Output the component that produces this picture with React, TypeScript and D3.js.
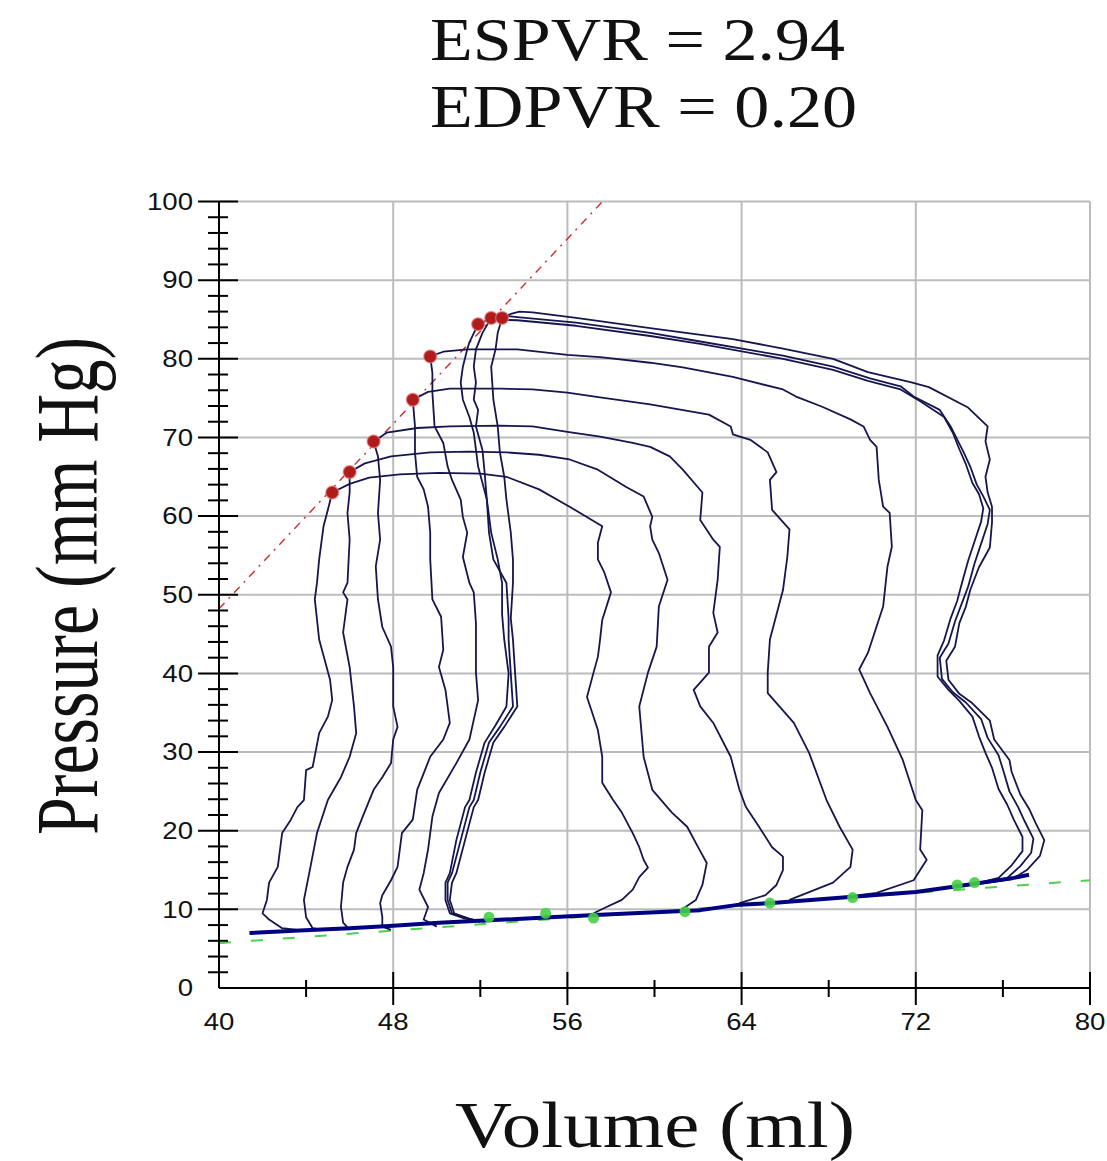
import React from 'react';
import * as d3 from 'd3';

type Pt = [number, number];

// ---- axis ticks ----
const xTicks = [40, 48, 56, 64, 72, 80];
const xMinorTicks = [44, 52, 60, 68, 76];
const yTicks = [0, 10, 20, 30, 40, 50, 60, 70, 80, 90, 100];
const yMinorTicks = [2, 4, 6, 8, 12, 14, 16, 18, 22, 24, 26, 28, 32, 34, 36, 38, 42, 44, 46, 48, 52, 54, 56, 58, 62, 64, 66, 68, 72, 74, 76, 78, 82, 84, 86, 88, 92, 94, 96, 98];

// ---- titles ----
const titleLines = ['ESPVR = 2.94', 'EDPVR = 0.20'];
const xLabel = 'Volume (ml)';
const yLabel = 'Pressure (mm Hg)';

// ---- fitted relations ----
const ESPVR_SLOPE = 2.94;
const ESPVR_V0 = 23.6;
const EDPVR_SLOPE = 0.2;
const EDPVR_P_AT_40 = 5.7;

// ---- pressure-volume loops [volume ml, pressure mmHg] ----
const loop1: Pt[] = [[57.2,9.5],[57.8,10.3],[58.5,11.2],[59.0,12.5],[59.3,14.1],[59.7,15.3],[59.5,16.3],[59.3,17.9],[59.0,19.7],[58.5,22.3],[58.1,23.9],[57.6,26.1],[57.6,29.4],[57.4,32.8],[57.2,34.5],[56.9,37.0],[57.2,40.1],[57.4,42.1],[57.5,44.3],[57.6,46.8],[58.0,50.3],[57.7,52.8],[57.4,54.5],[57.4,56.6],[57.6,58.7],[56.1,61.2],[54.7,63.4],[53.2,65.0],[52.0,65.4],[50.1,65.5],[48.3,65.3],[46.9,64.9],[46.0,64.1],[45.2,63.0],[45.0,60.8],[44.8,58.7],[44.6,54.5],[44.5,51.5],[44.4,49.4],[44.6,44.3],[45.1,39.2],[45.2,36.6],[45.0,34.5],[44.6,32.4],[44.3,28.1],[44.0,27.7],[43.9,23.9],[43.6,23.0],[43.3,21.4],[42.9,19.7],[42.7,15.4],[42.3,13.4],[42.2,11.2],[42.0,9.5],[42.3,8.7],[42.9,7.6],[43.6,7.4]];

const loop2: Pt[] = [[61.2,9.9],[61.9,11.2],[62.2,13.1],[62.4,15.9],[62.1,17.4],[61.5,20.5],[60.8,22.3],[59.9,25.2],[59.5,29.4],[59.3,35.8],[59.7,40.1],[60.1,43.4],[60.2,48.5],[60.6,51.9],[60.2,55.3],[59.9,57.0],[59.8,58.7],[59.9,59.9],[59.5,62.5],[58.7,63.7],[57.4,65.9],[56.1,67.2],[54.7,67.8],[53.2,68.1],[51.5,68.2],[49.7,68.1],[47.9,67.6],[46.7,66.7],[46.0,65.6],[46.0,63.0],[45.9,60.4],[46.0,57.0],[45.9,51.5],[45.7,50.3],[45.9,49.4],[45.7,45.2],[46.0,40.8],[46.2,35.8],[46.3,32.4],[46.0,29.4],[45.6,26.8],[45.0,23.9],[44.5,19.7],[44.2,15.4],[43.9,11.2],[44.0,9.0],[44.3,7.6],[44.8,7.4]];

const loop3: Pt[] = [[63.9,10.8],[65.1,11.8],[65.6,13.1],[65.9,15.0],[65.9,16.7],[65.4,17.9],[64.8,20.5],[64.2,23.0],[63.9,25.2],[63.5,29.4],[62.7,33.7],[62.1,35.8],[61.8,37.9],[62.5,40.1],[62.5,43.4],[62.9,45.2],[62.7,47.7],[62.9,51.9],[63.0,56.1],[62.7,57.0],[62.1,59.5],[62.2,63.0],[61.3,65.9],[60.7,67.6],[59.8,68.8],[59.0,69.3],[57.5,70.1],[56.0,70.7],[54.4,71.4],[52.9,71.5],[50.6,71.4],[49.1,71.2],[47.7,70.6],[47.1,69.5],[47.3,67.6],[47.4,64.6],[47.3,60.4],[47.4,57.0],[47.2,53.6],[47.3,49.4],[47.5,45.9],[47.9,43.4],[48.0,40.8],[48.0,35.8],[48.2,33.2],[48.0,31.6],[47.9,28.6],[47.5,26.8],[47.1,25.2],[46.6,21.8],[46.3,19.7],[46.2,17.6],[45.9,15.4],[45.7,13.4],[45.6,10.3],[45.7,8.3],[46.0,7.4]];

const loop4: Pt[] = [[66.2,11.2],[68.2,13.4],[69.0,15.4],[69.1,17.6],[68.5,20.5],[67.9,23.9],[67.1,29.9],[66.4,33.7],[65.2,37.5],[65.2,40.1],[65.3,44.3],[65.9,50.6],[66.1,54.8],[66.2,58.3],[65.4,60.8],[65.3,64.6],[65.6,65.6],[65.2,68.1],[64.4,69.7],[63.6,70.4],[63.5,71.4],[62.5,72.9],[59.8,74.2],[57.5,75.1],[56.0,75.7],[54.4,76.1],[52.9,76.2],[50.6,76.2],[49.6,75.8],[48.9,74.8],[49.0,71.4],[49.0,68.1],[49.1,65.0],[49.4,63.4],[49.6,61.2],[49.7,57.9],[49.7,54.5],[49.8,49.4],[50.2,47.2],[50.3,43.0],[50.1,40.8],[50.4,37.9],[50.6,33.7],[50.3,31.6],[49.7,29.4],[49.1,25.2],[48.9,21.4],[48.4,19.7],[48.2,15.4],[47.9,13.7],[47.5,11.8],[47.4,10.8],[47.5,9.0],[47.5,7.8],[47.9,7.4]];

const loop5: Pt[] = [[69.4,11.8],[70.2,12.1],[71.9,13.7],[72.5,16.3],[72.2,17.6],[72.3,22.6],[72.0,23.9],[71.4,29.0],[70.7,33.2],[69.9,37.5],[69.4,40.5],[69.8,42.6],[70.5,48.5],[70.7,53.6],[70.9,56.1],[70.8,60.4],[70.5,61.2],[70.3,64.6],[70.2,68.8],[69.9,69.7],[69.6,71.4],[69.0,72.3],[67.7,73.9],[66.5,75.2],[65.9,76.1],[63.6,77.7],[61.3,78.9],[59.8,79.5],[57.5,80.2],[56.0,80.5],[53.7,81.2],[51.4,81.2],[50.3,80.9],[49.7,80.3],[49.8,78.2],[49.8,75.7],[49.9,71.4],[50.3,69.3],[50.5,66.3],[50.7,64.6],[51.1,62.1],[51.2,59.9],[51.4,57.9],[51.2,54.8],[51.5,51.5],[51.7,50.3],[51.8,46.4],[51.8,40.1],[51.9,36.6],[51.5,31.6],[50.9,28.6],[50.1,24.8],[49.8,21.8],[49.6,17.6],[49.4,14.6],[49.2,12.5],[49.6,10.3],[49.4,8.7],[50.0,7.8]];

const loop6: Pt[] = [[73.9,13.0],[74.8,13.3],[75.8,14.0],[76.4,15.6],[76.9,17.4],[76.9,19.2],[76.5,21.4],[76.2,23.3],[75.8,25.3],[75.5,28.0],[75.2,29.9],[74.9,32.0],[74.6,34.5],[74.0,36.5],[73.5,37.9],[73.0,39.6],[73.0,42.3],[73.3,44.2],[73.6,47.0],[73.9,49.2],[74.1,51.3],[74.4,54.3],[74.7,56.8],[75.0,59.3],[75.1,61.0],[74.9,62.8],[74.6,64.2],[74.3,66.6],[74.0,68.5],[73.7,70.6],[73.3,72.6],[72.2,74.6],[71.3,76.1],[69.8,77.2],[68.2,78.6],[65.9,80.0],[62.1,81.9],[59.8,82.9],[56.4,84.2],[53.7,84.9],[52.5,85.0],[52.3,84.9],[51.9,84.4],[51.5,82.1],[51.4,81.2],[51.2,79.0],[51.1,77.0],[51.2,74.8],[51.5,72.6],[51.7,70.6],[51.9,66.3],[52.1,64.2],[52.3,62.1],[52.5,57.9],[52.8,54.5],[53.0,51.5],[53.0,47.5],[53.1,44.3],[53.3,40.0],[53.2,35.8],[52.7,33.4],[52.2,31.2],[51.8,27.4],[51.5,23.9],[51.3,23.0],[50.9,18.8],[50.6,14.6],[50.4,13.4],[50.4,11.2],[50.6,9.5],[51.2,8.9],[51.9,8.5]];

const loop7: Pt[] = [[74.2,13.0],[75.2,13.4],[76.2,14.0],[76.8,15.5],[77.3,17.2],[77.4,19.0],[77.0,21.2],[76.7,23.0],[76.3,25.0],[76.0,27.8],[75.8,29.6],[75.3,31.8],[75.0,34.2],[74.3,36.3],[73.7,37.6],[73.2,39.3],[73.1,42.0],[73.5,43.8],[73.8,46.6],[74.1,48.8],[74.4,51.0],[74.7,54.0],[75.0,56.5],[75.3,59.0],[75.4,60.8],[75.1,62.5],[74.8,64.0],[74.5,66.3],[74.2,68.1],[73.6,71.4],[73.1,73.5],[71.9,75.2],[71.3,76.5],[69.9,77.5],[68.2,79.0],[65.9,80.4],[62.1,82.2],[59.8,83.3],[56.4,84.6],[53.7,85.3],[53.0,85.5],[52.5,85.2],[52.1,83.3],[51.8,81.2],[51.7,79.0],[51.8,77.0],[51.7,74.8],[51.9,73.5],[51.8,71.4],[52.1,68.4],[52.2,65.5],[52.3,62.1],[52.4,57.9],[52.6,54.5],[53.2,51.5],[53.3,47.0],[53.3,44.3],[53.4,40.0],[53.5,35.8],[52.9,33.2],[52.4,31.2],[52.0,27.4],[51.7,23.9],[51.5,23.0],[51.1,18.8],[50.7,14.6],[50.5,13.4],[50.5,11.2],[50.7,9.5],[51.4,8.9],[52.0,8.4]];

const loop8: Pt[] = [[74.8,13.2],[75.6,13.5],[76.4,13.8],[77.1,15.0],[77.7,16.8],[77.9,18.8],[77.5,21.0],[77.2,22.8],[76.8,24.6],[76.4,27.5],[76.3,29.0],[75.6,31.6],[75.4,34.0],[74.6,36.2],[74.0,37.4],[73.5,39.2],[73.4,41.6],[73.8,43.4],[74.0,46.4],[74.3,48.5],[74.5,50.6],[74.9,53.5],[75.4,56.0],[75.5,59.2],[75.5,61.2],[75.3,63.0],[75.2,65.0],[75.4,67.2],[75.2,69.5],[75.3,71.4],[74.4,73.8],[72.6,76.4],[71.8,77.0],[69.8,78.3],[68.2,80.0],[65.9,81.3],[63.6,82.5],[59.8,83.9],[56.4,85.2],[54.4,85.9],[53.8,86.0],[53.4,85.7],[53.0,85.2],[52.8,83.3],[52.7,81.2],[52.5,79.0],[52.6,74.8],[52.8,71.4],[52.9,68.1],[53.1,65.0],[53.2,62.1],[53.4,57.9],[53.5,54.5],[53.5,51.5],[53.4,47.0],[53.5,44.3],[53.6,40.0],[53.7,35.8],[53.1,33.2],[52.6,31.2],[52.2,27.4],[51.9,23.9],[51.7,23.0],[51.3,18.8],[50.9,14.6],[50.7,13.4],[50.6,11.2],[50.8,9.5],[51.5,8.8],[52.2,8.4]];

const loops: Pt[][] = [loop1, loop2, loop3, loop4, loop5, loop6, loop7, loop8];

// common filling (bottom) trace
const fillingTrace: Pt[] = [[41.4,7.0],[43.7,7.3],[46.0,7.6],[48.0,7.9],[50.1,8.3],[52.4,8.6],[55.2,9.0],[57.5,9.3],[62.1,9.9],[63.9,10.6],[65.4,10.8],[69.1,11.6],[72.0,12.2],[74.3,13.1],[76.5,14.0],[77.2,14.4]];

// end-systolic points (red) and end-diastolic points (green)
const esPoints: Pt[] = [[45.2,63.0],[46.0,65.6],[47.1,69.5],[48.9,74.8],[49.7,80.3],[51.9,84.4],[52.5,85.2],[53.0,85.2]];
const edPoints: Pt[] = [[52.4,9.0],[55.0,9.5],[57.2,8.9],[61.4,9.7],[65.3,10.8],[69.1,11.5],[73.9,13.1],[74.7,13.4]];

export default function App() {
  const W = 1107;
  const H = 1161;
  const x = d3.scaleLinear().domain([40, 80]).range([219, 1090]);
  const y = d3.scaleLinear().domain([0, 100]).range([988, 201.5]);
  const line = d3.line<Pt>().x(d => x(d[0])).y(d => y(d[1]));

  const espvrEnd = ESPVR_V0 + 100 / ESPVR_SLOPE;
  const espvrLine: Pt[] = [[40, ESPVR_SLOPE * (40 - ESPVR_V0)], [espvrEnd, 100]];
  const edpvrLine: Pt[] = [[40, EDPVR_P_AT_40], [80, EDPVR_P_AT_40 + EDPVR_SLOPE * 40]];

  const serif = "'Liberation Serif','Times New Roman',Times,serif";
  const sans = "'Liberation Sans',Arial,Helvetica,sans-serif";
  const tickFs = 23;
  const tl = (s: string) => s.length * 0.556 * tickFs * 1.2;
  const x0 = x(40);
  const y0 = y(0);

  return (
    <svg width={W} height={H} style={{ position: 'absolute', left: 0, top: 0, background: '#fff' }}>
      <rect x={0} y={0} width={W} height={H} fill="#fff" />

      {/* titles */}
      <text x={637.5} y={60} textAnchor="middle" fontFamily={serif} fontSize={61} textLength={415} lengthAdjust="spacingAndGlyphs" fill="#111">{titleLines[0]}</text>
      <text x={643.5} y={127} textAnchor="middle" fontFamily={serif} fontSize={61} textLength={427} lengthAdjust="spacingAndGlyphs" fill="#111">{titleLines[1]}</text>

      {/* grid */}
      {yTicks.filter(t => t > 0).map(t => (
        <line key={'gy' + t} x1={x0} x2={x(80)} y1={y(t)} y2={y(t)} stroke="#bcbcbc" strokeWidth={2} />
      ))}
      {xTicks.filter(t => t > 40).map(t => (
        <line key={'gx' + t} x1={x(t)} x2={x(t)} y1={y(0)} y2={y(100)} stroke="#bcbcbc" strokeWidth={2} />
      ))}

      {/* EDPVR and ESPVR fits */}
      <path d={line(edpvrLine) || ''} fill="none" stroke="#4fd14f" strokeWidth={2} strokeDasharray="12,20" />
      <path d={line(espvrLine) || ''} fill="none" stroke="#cc2a2a" strokeWidth={1.4} strokeDasharray="8,6,2,6" />

      {/* loops */}
      {loops.map((lp, i) => (
        <path key={'lp' + i} d={line(lp) || ''} fill="none" stroke="#16164e" strokeWidth={1.8} strokeLinejoin="round" />
      ))}
      <path d={line(fillingTrace) || ''} fill="none" stroke="#000080" strokeWidth={4} strokeLinejoin="round" />

      {/* ED points */}
      {edPoints.map((p, i) => (
        <circle key={'ed' + i} cx={x(p[0])} cy={y(p[1])} r={5.5} fill="#45cf45" opacity={0.9} />
      ))}
      {/* ES points */}
      {esPoints.map((p, i) => (
        <circle key={'es' + i} cx={x(p[0])} cy={y(p[1])} r={6.5} fill="#b01c1c" stroke="#e88a8a" strokeWidth={1.5} strokeOpacity={0.6} />
      ))}

      {/* y axis */}
      <line x1={x0} x2={x0} y1={y(0)} y2={y(100)} stroke="#000" strokeWidth={2} />
      {yTicks.filter(t => t > 0).map(t => (
        <line key={'yt' + t} x1={x0 - 21} x2={x0 + 19} y1={y(t)} y2={y(t)} stroke="#000" strokeWidth={2} />
      ))}
      {yMinorTicks.map(t => (
        <line key={'ym' + t} x1={x0 - 11} x2={x0 + 9} y1={y(t)} y2={y(t)} stroke="#000" strokeWidth={2} />
      ))}
      {yTicks.map(t => (
        <text key={'yl' + t} x={193} y={y(t)} dy="0.36em" textAnchor="end" fontFamily={sans} fontSize={tickFs} textLength={tl(String(t))} lengthAdjust="spacingAndGlyphs" fill="#111">{t}</text>
      ))}

      {/* x axis */}
      <line x1={x0} x2={x(80)} y1={y0} y2={y0} stroke="#000" strokeWidth={2} />
      {xTicks.filter(t => t > 40).map(t => (
        <line key={'xt' + t} x1={x(t)} x2={x(t)} y1={y0 - 16} y2={y0 + 17} stroke="#000" strokeWidth={2} />
      ))}
      {xMinorTicks.map(t => (
        <line key={'xm' + t} x1={x(t)} x2={x(t)} y1={y0 - 8} y2={y0 + 9} stroke="#000" strokeWidth={2} />
      ))}
      {xTicks.map(t => (
        <text key={'xl' + t} x={x(t)} y={1030} textAnchor="middle" fontFamily={sans} fontSize={tickFs} textLength={tl(String(t))} lengthAdjust="spacingAndGlyphs" fill="#111">{t}</text>
      ))}

      {/* axis titles */}
      <text x={655} y={1147} textAnchor="middle" fontFamily={serif} fontSize={66} textLength={400} lengthAdjust="spacingAndGlyphs" fill="#111">{xLabel}</text>
      <text transform="translate(97,586) rotate(-90)" textAnchor="middle" fontFamily={serif} fontSize={88} textLength={498} lengthAdjust="spacingAndGlyphs" fill="#111">{yLabel}</text>
    </svg>
  );
}
